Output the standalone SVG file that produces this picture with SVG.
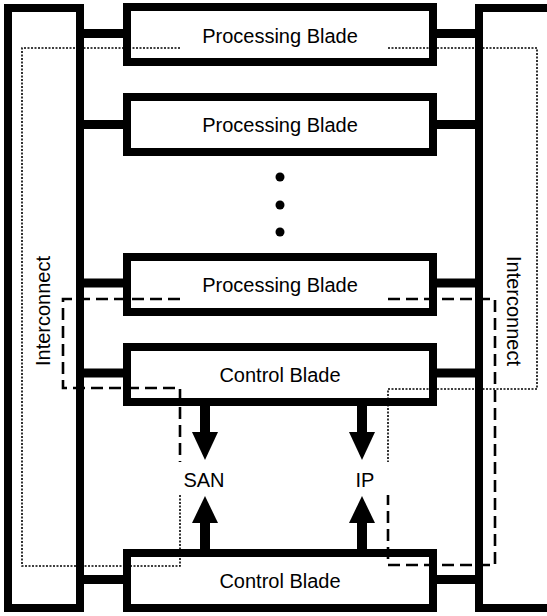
<svg xmlns="http://www.w3.org/2000/svg" width="547" height="616" viewBox="0 0 547 616">
<style>
.bar{fill:#fff;stroke:#000;stroke-width:8}
.box{fill:#fff;stroke:#000;stroke-width:8}
.lnk{stroke:#000;stroke-width:9}
.lbl{font-family:"Liberation Sans",Arial,sans-serif;font-size:20px;fill:#000;text-anchor:middle}
.dot{fill:none;stroke:#000;stroke-width:1.6;stroke-dasharray:2 1.5}
.dash{fill:none;stroke:#000;stroke-width:2.6;stroke-dasharray:12 6}
.arr{fill:#000}
</style>
<rect width="547" height="616" fill="#fff"/>
<g id="connectors">
<line class="lnk" x1="84" y1="33.5" x2="123" y2="33.5"/>
<line class="lnk" x1="437" y1="33.5" x2="475" y2="33.5"/>
<line class="lnk" x1="84" y1="124.5" x2="123" y2="124.5"/>
<line class="lnk" x1="437" y1="124.5" x2="475" y2="124.5"/>
<line class="lnk" x1="84" y1="283" x2="123" y2="283"/>
<line class="lnk" x1="437" y1="283" x2="475" y2="283"/>
<line class="lnk" x1="84" y1="373" x2="123" y2="373"/>
<line class="lnk" x1="437" y1="373" x2="475" y2="373"/>
<line class="lnk" x1="84" y1="579.5" x2="123" y2="579.5"/>
<line class="lnk" x1="437" y1="579.5" x2="475" y2="579.5"/>
<g id="arrow-san-down"><rect class="arr" x="200" y="405" width="10" height="28"/><polygon class="arr" points="192,432 218,432 205,460"/></g>
<g id="arrow-ip-down"><rect class="arr" x="357" y="405" width="10" height="28"/><polygon class="arr" points="349,432 375,432 362,460"/></g>
<g id="arrow-san-up"><rect class="arr" x="200" y="522" width="10" height="28"/><polygon class="arr" points="192,523 218,523 205,496"/></g>
<g id="arrow-ip-up"><rect class="arr" x="357" y="522" width="10" height="28"/><polygon class="arr" points="349,523 375,523 362,496"/></g>
</g>
<g id="interconnect-left">
<rect class="bar" x="8" y="8" width="72" height="600"/>
<text class="lbl" transform="translate(50,311) rotate(-90)">Interconnect</text>
</g>
<g id="interconnect-right">
<rect class="bar" x="479" y="8" width="72" height="600"/>
<text class="lbl" transform="translate(507,311) rotate(90)">Interconnect</text>
</g>
<g id="processing-blade-1">
<rect class="box" x="127" y="7" width="306" height="55"/>
<text class="lbl" x="280" y="43">Processing Blade</text>
</g>
<g id="processing-blade-2">
<rect class="box" x="127" y="97" width="306" height="55"/>
<text class="lbl" x="280" y="132">Processing Blade</text>
</g>
<g id="ellipsis">
<circle cx="280" cy="177" r="4.5"/>
<circle cx="280" cy="205" r="4.5"/>
<circle cx="280" cy="232" r="4.5"/>
</g>
<g id="processing-blade-3">
<rect class="box" x="127" y="257" width="306" height="55"/>
<text class="lbl" x="280" y="292">Processing Blade</text>
</g>
<g id="control-blade-1">
<rect class="box" x="127" y="347" width="306" height="55"/>
<text class="lbl" x="280" y="382">Control Blade</text>
</g>
<g id="control-blade-2">
<rect class="box" x="127" y="553" width="306" height="55"/>
<text class="lbl" x="280" y="588">Control Blade</text>
</g>
<g id="san"><text class="lbl" x="204" y="487">SAN</text></g>
<g id="ip"><text class="lbl" x="365" y="487">IP</text></g>
<g id="outlines">
<polyline class="dot" points="180,48 22,48 22,566 180,566 180,495"/>
<polyline class="dot" points="388,48 537,48 537,389 388,389 388,462"/>
<polyline class="dash" points="180,299 63,299 63,388 180,388 180,462"/>
<polyline class="dash" points="388,299 495,299 495,565 388,565 388,495"/>
</g>
</svg>
